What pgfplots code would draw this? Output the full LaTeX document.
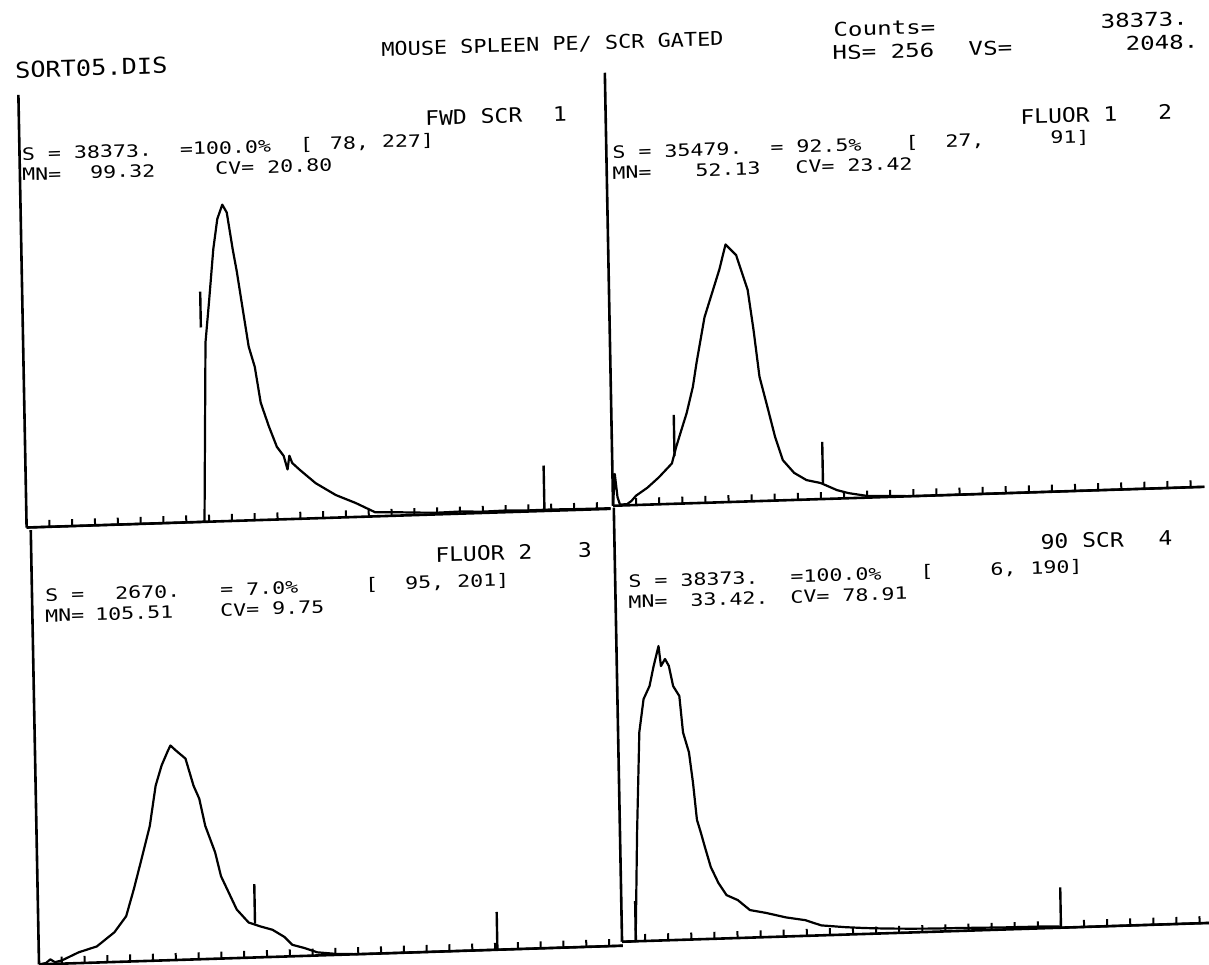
\documentclass[border=0pt]{standalone}
\usepackage{fontspec}
\newfontfamily\prt[FakeStretch=1.15]{DejaVu Sans Mono}
\newfontfamily\prts[FakeStretch=1.27]{DejaVu Sans Mono}
\usepackage{pgfplots}
\pgfplotsset{compat=1.18}

% one histogram panel: 256 channels across, vertical scale 2048
\pgfplotsset{
  panel/.style={
    scale only axis, anchor=south west,
    xmin=0, xmax=256, ymin=0, ymax=2048,
    axis x line=bottom, axis y line=left,
    axis line style={-, line width=1.3pt, black},
    xtick={10,20,...,250}, xticklabels={}, ytick=\empty,
    tick align=inside, major tick length=3.5pt,
    tick style={line width=1pt, black},
    clip=false,
  },
  hist/.style={black, line width=1.1pt, no marks, line join=round},
  gate/.style={black, line width=1.2pt, no marks},
}

\begin{document}
\begin{tikzpicture}
\path[use as bounding box] (0,0) rectangle (604.5pt,-482pt);
% the printout sits slightly skewed on the page
\begin{scope}[transform canvas={cm={1,0.032,-0.019,1,(-4.58pt,-9.67pt)}}]

% ---------------- FWD SCR 1 ----------------
\begin{axis}[panel, at={(13.05pt,-254.5pt)}, width=292pt, height=216.3pt]
\addplot[hist] coordinates {
 (0,0) (77,0) (78,4) (79.9,848) (81.9,1052) (84.1,1289) (86.1,1431)
 (88.4,1498) (90.3,1460) (92.6,1285) (94.2,1180) (96.5,1000) (98.8,822)
 (101.3,725) (103.6,555) (107,441) (110.3,344) (113.2,300) (114.8,235)
 (115.7,300) (116.9,265) (120.2,231) (127,166) (135.7,107) (144.4,66)
 (152.9,19) (161,17) (170,12) (180,8) (190,10) (200,6) (210,8) (220,5)
 (230,6) (240,4) (256,3)};
\addplot[gate] coordinates {(78,920) (78,1090)};
\addplot[gate] coordinates {(227,10) (227,215)};
\end{axis}

% ---------------- FLUOR 1 2 ----------------
\begin{axis}[panel, at={(306.3pt,-253pt)}, width=295.7pt, height=216.5pt]
\addplot[hist] coordinates {
 (0,0) (1,150) (2,40) (3,5) (6,5) (8,20) (10,44) (15,80) (20,127)
 (25.8,191) (27.7,265) (29.7,332) (32.6,427) (35.5,550) (37.3,664)
 (41.1,877) (44,972) (47.9,1100) (50.8,1218) (55.3,1166) (56.9,1109)
 (60,1000) (62.2,811) (64.4,588) (67.6,443) (70.7,299) (73.8,190)
 (78.6,128) (83.9,92) (90,76) (97,40) (102,24) (110,8) (120,4) (130,0)
 (256,0)};
\addplot[gate] coordinates {(27,225) (27,420)};
\addplot[gate] coordinates {(91,75) (91,270)};
\end{axis}

% ---------------- FLUOR 2 3 ----------------
\begin{axis}[panel, at={(15.1pt,-473pt)}, width=291.9pt, height=217.1pt]
\addplot[hist] coordinates {
 (0,0) (3,5) (5,22) (7,8) (10,15) (17.5,51) (25.5,76) (33.3,140)
 (38.6,214) (42.2,341) (45.8,481) (49.7,636) (52.6,825) (55.4,920)
 (58.1,984) (59.4,1012) (61.7,988) (65.9,948) (69.2,819) (71.6,757)
 (74,628) (78.1,502) (80.5,388) (83.7,311) (87.1,229) (92.2,166)
 (97.5,145) (102.6,128) (107.7,93) (111.2,54) (116.2,38) (122,15)
 (130,5) (140,0) (256,0)};
\addplot[gate] coordinates {(95,160) (95,346)};
\addplot[gate] coordinates {(201,0) (201,178)};
\end{axis}

% ---------------- 90 SCR 4 ----------------
\begin{axis}[panel, at={(306.65pt,-471pt)}, width=295.7pt, height=217pt]
\addplot[hist] coordinates {
 (0,0) (5.9,0) (7.4,512) (9.2,986) (11.3,1141) (14,1202) (15.9,1294)
 (18.2,1389) (19.1,1294) (20.9,1327) (22.5,1294) (24.2,1198) (26.8,1150)
 (28.1,978) (30.5,883) (32,739) (33.4,564) (35,502) (36.6,435) (39,339)
 (42.2,262) (45.6,204) (50.4,179) (55.6,130) (62.6,114) (71.1,90)
 (79.5,74) (86.3,47) (96.7,35) (105,28) (115,22) (125,18) (135,15)
 (145,14) (155,12) (165,10) (175,9) (185,8) (189,6) (190,0) (256,0)};
\addplot[gate] coordinates {(6,0) (6,190)};
\addplot[gate] coordinates {(190,0) (190,190)};
\end{axis}

% ---------------- printed text ----------------
\begin{scope}[x=0.5pt, y=-0.5pt,
  hd/.style={font=\prts\fontsize{9.5}{11}\selectfont, inner sep=0pt, anchor=west},
  tt/.style={font=\prt\fontsize{10}{12}\selectfont, inner sep=0pt},
  st/.style={font=\prts\fontsize{8.5}{10}\selectfont, inner sep=0pt, anchor=west}]
% header
\node[hd, font=\prt\fontsize{11}{13}\selectfont] at (22.9,51.6) {SORT05.DIS};
\node[font=\prt\fontsize{9.5}{11}\selectfont, inner sep=0pt] at (560.8,43.3) {MOUSE SPLEEN PE/ SCR GATED};
\node[hd] at (841.6,37.5) {Counts=};
\node[hd] at (1108.7,37.5) {38373.};
\node[hd] at (840.2,60.5) {HS= 256};
\node[hd] at (976.2,60.5) {VS=};
\node[hd] at (1133.3,60.5) {2048.};
% panel 1
\node[tt, anchor=west] at (431.9,112.8) {FWD SCR};
\node[tt] at (566.9,112.8) {1};
\node[st] at (28.3,135.8) {S = 38373.};
\node[st] at (186.3,135.8) {=100.0\%};
\node[st] at (306.3,135.8) {[};
\node[st] at (336.3,135.8) {78, 227]};
\node[st] at (28,156.3) {MN=};
\node[st] at (96,156.3) {99.32};
\node[st] at (221,156.3) {CV= 20.80};
% panel 2
\node[tt, anchor=west] at (1026.7,130.5) {FLUOR 1};
\node[tt] at (1171.7,130.5) {2};
\node[st] at (618.3,153) {S = 35479.};
\node[st] at (776.3,153) {= 92.5\%};
\node[st] at (911.3,153) {[};
\node[st] at (951.3,153) {27,};
\node[st] at (1056.3,153) {91]};
\node[st] at (618,173.5) {MN=};
\node[st] at (701,173.5) {52.13};
\node[st] at (801,173.5) {CV= 23.42};
% panel 3
\node[tt, anchor=west] at (433.7,549.3) {FLUOR 2};
\node[tt] at (583.7,549.3) {3};
\node[st] at (43,577.4) {S =};
\node[st] at (113,577.4) {2670.};
\node[st] at (218,577.4) {=  7.0\%};
\node[st] at (363,577.4) {[};
\node[st] at (403,577.4) {95, 201]};
\node[st] at (42.6,597.9) {MN=};
\node[st] at (92.6,597.9) {105.51};
\node[st] at (217.6,597.9) {CV=  9.75};
% panel 4
\node[tt, anchor=west] at (1038.9,555.9) {90 SCR};
\node[tt] at (1163.9,555.9) {4};
\node[st] at (626.2,582.3) {S = 38373.};
\node[st] at (788.2,582.3) {=100.0\%};
\node[st] at (918.2,582.3) {[};
\node[st] at (988.2,582.3) {6,};
\node[st] at (1028.2,582.3) {190]};
\node[st] at (625.8,602.8) {MN=};
\node[st] at (687.8,602.8) {33.42.};
\node[st] at (787.8,602.8) {CV= 78.91};
\end{scope}

\end{scope}
\end{tikzpicture}
\end{document}
